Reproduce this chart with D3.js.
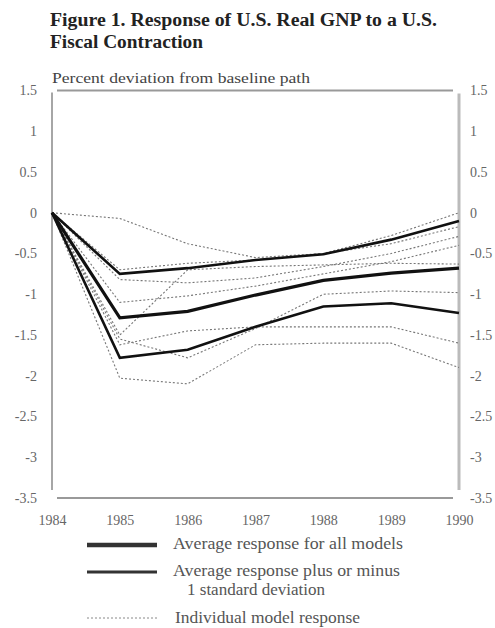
<!DOCTYPE html>
<html>
<head>
<meta charset="utf-8">
<script src="https://cdn.jsdelivr.net/npm/d3@7"></script>
<style>
  body { margin: 0; background: #fff; }
  svg { display: block; font-family: "Liberation Serif", "Times New Roman", serif; }
</style>
</head>
<body>
<div id="chart"></div>
<script>
// years on the x axis
var years = [1984, 1985, 1986, 1987, 1988, 1989, 1990];
var yTicks = [1.5, 1, 0.5, 0, -0.5, -1, -1.5, -2, -2.5, -3, -3.5];

// solid lines
var avgResponse = [0, -1.29, -1.21, -1.01, -0.83, -0.74, -0.68];
var plusOneSD   = [0, -0.75, -0.68, -0.58, -0.51, -0.33, -0.10];
var minusOneSD  = [0, -1.78, -1.68, -1.40, -1.15, -1.11, -1.23];

// individual model responses (dotted)
var model1 = [0, -0.07, -0.38, -0.55, -0.50, -0.28, 0.00];
var model2 = [0, -0.70, -0.62, -0.58, -0.50, -0.38, -0.17];
var model3 = [0, -0.82, -0.86, -0.80, -0.66, -0.50, -0.29];
var model4 = [0, -1.10, -1.02, -0.90, -0.75, -0.60, -0.40];
var model5 = [0, -1.50, -0.70, -0.66, -0.64, -0.62, -0.63];
var model6 = [0, -1.55, -1.78, -1.42, -1.00, -0.96, -0.98];
var model7 = [0, -1.62, -1.45, -1.40, -1.40, -1.40, -1.60];
var model8 = [0, -2.03, -2.10, -1.62, -1.60, -1.60, -1.90];
var models = [model1, model2, model3, model4, model5, model6, model7, model8];

var W = 495, H = 628;
var svg = d3.select("#chart").append("svg").attr("width", W).attr("height", H);

var x = d3.scaleLinear().domain([1984, 1990]).range([52, 459]);
var y = d3.scaleLinear().domain([-3.5, 1.5]).range([498, 90.5]);

// title
svg.append("text").attr("x", 50).attr("y", 26)
  .attr("font-size", 18).attr("font-weight", "bold").attr("fill", "#222")
  .attr("textLength", 387).attr("lengthAdjust", "spacingAndGlyphs")
  .text("Figure 1. Response of U.S. Real GNP to a U.S.");
svg.append("text").attr("x", 50).attr("y", 48)
  .attr("font-size", 18).attr("font-weight", "bold").attr("fill", "#222")
  .attr("textLength", 153).attr("lengthAdjust", "spacingAndGlyphs")
  .text("Fiscal Contraction");
svg.append("text").attr("x", 52).attr("y", 83)
  .attr("font-size", 15).attr("fill", "#444")
  .attr("textLength", 258).attr("lengthAdjust", "spacingAndGlyphs")
  .text("Percent deviation from baseline path");

// frame
var frame = svg.append("g");
frame.append("line").attr("x1", x(1984) + 5).attr("x2", x(1990) - 6)
  .attr("y1", y(1.5)).attr("y2", y(1.5)).attr("stroke", "#999").attr("stroke-width", 2);
frame.append("line").attr("x1", x(1984) + 5).attr("x2", x(1990) - 6)
  .attr("y1", y(-3.5)).attr("y2", y(-3.5)).attr("stroke", "#999").attr("stroke-width", 2);
frame.append("line").attr("x1", x(1984)).attr("x2", x(1984))
  .attr("y1", y(1.5) + 2).attr("y2", y(-3.5) - 8).attr("stroke", "#888").attr("stroke-width", 1.5);
frame.append("line").attr("x1", x(1990)).attr("x2", x(1990))
  .attr("y1", y(1.5) + 3).attr("y2", y(-3.5) - 8).attr("stroke", "#bbb").attr("stroke-width", 3);

// axes (labels only)
var fmt = function (d) { return String(d); };
var left = svg.append("g").attr("transform", "translate(37,0)")
  .call(d3.axisLeft(y).tickValues(yTicks).tickSize(0).tickPadding(0).tickFormat(fmt));
var right = svg.append("g").attr("transform", "translate(470,0)")
  .call(d3.axisRight(y).tickValues(yTicks).tickSize(0).tickPadding(0).tickFormat(fmt));
var bottom = svg.append("g").attr("transform", "translate(0,515)")
  .call(d3.axisBottom(x).tickValues(years).tickSize(0).tickPadding(0).tickFormat(fmt));
[left, right, bottom].forEach(function (g) {
  g.attr("font-family", "Liberation Serif, serif").attr("font-size", 14);
  g.select(".domain").remove();
  g.selectAll("text").attr("fill", "#666");
});

var line = d3.line()
  .x(function (d, i) { return x(years[i]); })
  .y(function (d) { return y(d); });

// individual models
svg.append("g").selectAll("path").data(models).join("path")
  .attr("d", line).attr("fill", "none")
  .attr("stroke", "#777").attr("stroke-width", 1.1).attr("stroke-dasharray", "2,2");

// average +/- sd
svg.append("g").selectAll("path").data([plusOneSD, minusOneSD]).join("path")
  .attr("d", line).attr("fill", "none")
  .attr("stroke", "#111").attr("stroke-width", 2.6);
svg.append("path").datum(avgResponse).attr("d", line).attr("fill", "none")
  .attr("stroke", "#111").attr("stroke-width", 3.2);

// legend
var lg = svg.append("g");
lg.append("line").attr("x1", 87).attr("x2", 157).attr("y1", 545).attr("y2", 545)
  .attr("stroke", "#333").attr("stroke-width", 4.5);
lg.append("line").attr("x1", 87).attr("x2", 157).attr("y1", 572).attr("y2", 572)
  .attr("stroke", "#333").attr("stroke-width", 3);
lg.append("line").attr("x1", 87).attr("x2", 157).attr("y1", 618).attr("y2", 618)
  .attr("stroke", "#888").attr("stroke-width", 1).attr("stroke-dasharray", "2,2");

function legendText(tx, ty, len, s) {
  lg.append("text").attr("x", tx).attr("y", ty).attr("font-size", 16).attr("fill", "#555")
    .attr("textLength", len).attr("lengthAdjust", "spacingAndGlyphs").text(s);
}
legendText(173, 549, 230, "Average response for all models");
legendText(173, 576, 227, "Average response plus or minus");
legendText(187, 595, 138, "1 standard deviation");
legendText(175, 623, 185, "Individual model response");
</script>
</body>
</html>
